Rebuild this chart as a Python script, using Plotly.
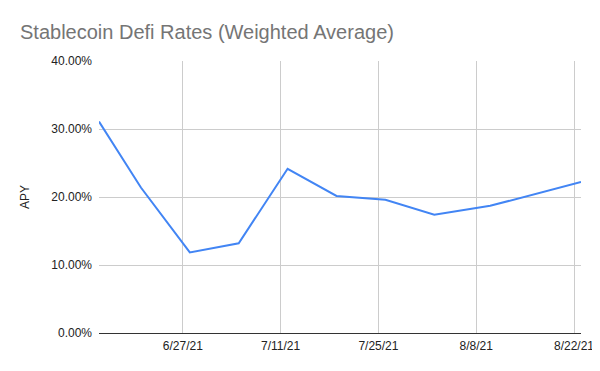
import plotly.graph_objects as go

dates = ["2021-06-15", "2021-06-21", "2021-06-28", "2021-07-05", "2021-07-12",
         "2021-07-19", "2021-07-26", "2021-08-02", "2021-08-10", "2021-08-23"]
apy = [0.311, 0.214, 0.1185, 0.132, 0.2415, 0.2015, 0.196, 0.174, 0.187, 0.222]

tick_dates = ["2021-06-27", "2021-07-11", "2021-07-25", "2021-08-08", "2021-08-22"]
tick_labels = ["6/27/21", "7/11/21", "7/25/21", "8/8/21", "8/22/21"]
y_ticks = [0, 0.1, 0.2, 0.3, 0.4]

font = "Liberation Sans, Arial, sans-serif"

fig = go.Figure()
fig.add_trace(go.Scatter(x=dates, y=apy, mode="lines",
                         line=dict(color="#4285F4", width=2), showlegend=False))

fig.update_layout(
    width=600, height=371,
    margin=dict(l=91, r=27, t=53, b=46),
    paper_bgcolor="white", plot_bgcolor="white",
    title=dict(text="Stablecoin Defi Rates (Weighted Average)", x=0.02, xanchor="left",
               y=0.935, yanchor="middle",
               font=dict(family=font, size=20, color="#757575")),
    font=dict(family=font, size=12, color="#222222"),
)
fig.update_xaxes(
    type="date", range=["2021-06-15", "2021-08-23"],
    tickvals=tick_dates, ticktext=tick_labels,
    showgrid=True, gridcolor="#cccccc", gridwidth=1,
    showline=False, zeroline=False, ticks="", automargin=False,
    ticklabelstandoff=4,
    tickfont=dict(family=font, size=12, color="#222222"),
)
fig.update_yaxes(
    range=[0, 0.4], tickvals=y_ticks, tickformat=".2%",
    showgrid=True, gridcolor="#cccccc", gridwidth=1,
    zeroline=True, zerolinecolor="#333333", zerolinewidth=1,
    ticks="", ticklabelstandoff=6, automargin=False,
    title=dict(text="APY", font=dict(family=font, size=12, color="#222222"), standoff=19),
    tickfont=dict(family=font, size=12, color="#222222"),
)

fig.write_html("out.html")
